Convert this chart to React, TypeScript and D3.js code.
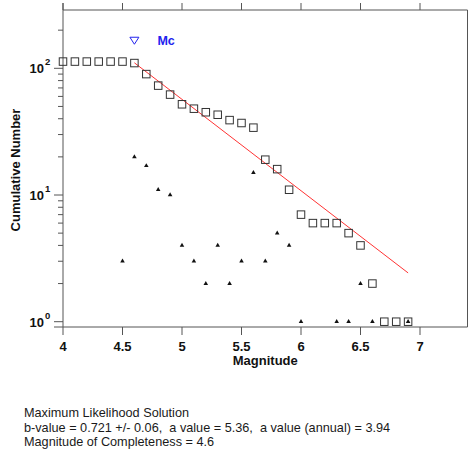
import React from "react";
import * as d3 from "d3";

const magnitudes = [4.0, 4.1, 4.2, 4.3, 4.4, 4.5, 4.6, 4.7, 4.8, 4.9, 5.0, 5.1, 5.2, 5.3, 5.4, 5.5, 5.6, 5.7, 5.8, 5.9, 6.0, 6.1, 6.2, 6.3, 6.4, 6.5, 6.6, 6.7, 6.8, 6.9];
const cumulative = [113, 113, 113, 113, 113, 113, 110, 90, 73, 62, 52, 48, 45, 43, 39, 37, 34, 19, 16, 11, 7, 6, 6, 6, 5, 4, 2, 1, 1, 1];
const nonCumMags = [4.5, 4.6, 4.7, 4.8, 4.9, 5.0, 5.1, 5.2, 5.3, 5.4, 5.5, 5.6, 5.7, 5.8, 5.9, 6.0, 6.3, 6.4, 6.5, 6.6, 6.9];
const nonCumCounts = [3, 20, 17, 11, 10, 4, 3, 2, 4, 2, 3, 15, 3, 5, 4, 1, 1, 1, 2, 1, 1];
const xTicks = [4, 4.5, 5, 5.5, 6, 6.5, 7];
const xTickLabels = ["4", "4.5", "5", "5.5", "6", "6.5", "7"];
const yDecades = [1, 10, 100];
const yDecadeExp = ["0", "1", "2"];
const bValue = 0.721;
const aValue = 5.36;
const mc = 4.6;
const mcMarkerY = 165;
const fitRange = [4.6, 6.9];
const infoLines = [
  "Maximum Likelihood Solution",
  "b-value = 0.721 +/- 0.06,  a value = 5.36,  a value (annual) = 3.94",
  "Magnitude of Completeness = 4.6",
];

const W = 468;
const H = 454;
const L = 63, R = 467.5, T = 10, B = 327;
const FONT = "Arial, 'Liberation Sans', sans-serif";

export default function App() {
  const x = d3.scaleLinear().domain([4, 7]).range([L, L + 357]);
  const y = d3.scaleLog().domain([1, 100]).range([321.7, 68.3]);

  const minorTicks: number[] = [];
  for (const dec of [1, 10, 100]) {
    for (let k = 2; k <= 9; k++) {
      const v = dec * k;
      const py = y(v);
      if (py >= T && py <= B) minorTicks.push(v);
    }
  }

  const fitLine = d3.line<number>()
    .x((m) => x(m))
    .y((m) => y(Math.pow(10, aValue - bValue * m)));

  const tri = d3.symbol().type(d3.symbolTriangle).size(9)();
  const sq = 7.5;

  return (
    <svg width={W} height={H} style={{ position: "absolute", left: 0, top: 0, background: "#fff" }} fontFamily={FONT}>
      <rect x={0} y={0} width={W} height={H} fill="#fff" />
      {/* frame */}
      <line x1={L} y1={T - 7} x2={L} y2={B} stroke="#555" strokeWidth={1} />
      <line x1={L} y1={T} x2={R} y2={T} stroke="#555" strokeWidth={1} />
      <line x1={R} y1={T} x2={R} y2={B} stroke="#555" strokeWidth={1} />
      <line x1={54} y1={B} x2={R} y2={B} stroke="#555" strokeWidth={1} />
      {/* x ticks */}
      {xTicks.map((t, i) => (
        <g key={"xt" + i}>
          <line x1={x(t)} y1={T} x2={x(t)} y2={T - 7} stroke="#555" />
          <line x1={x(t)} y1={B} x2={x(t)} y2={B + 8} stroke="#555" />
          <text x={x(t)} y={351} textAnchor="middle" fontSize={13} fontWeight="bold" fill="#111">
            {xTickLabels[i]}
          </text>
        </g>
      ))}
      {/* y ticks */}
      {yDecades.map((v, i) => (
        <g key={"yd" + i}>
          <line x1={L - 9} y1={y(v)} x2={L} y2={y(v)} stroke="#555" />
          <text x={44} y={y(v) + 5} textAnchor="end" fontSize={13} fontWeight="bold" fill="#111">10</text>
          <text x={45} y={y(v) - 3} fontSize={9.5} fontWeight="bold" fill="#111">{yDecadeExp[i]}</text>
        </g>
      ))}
      {minorTicks.map((v, i) => (
        <line key={"ym" + i} x1={L - 5} y1={y(v)} x2={L} y2={y(v)} stroke="#555" />
      ))}
      {/* axis titles */}
      <text x={(L + R) / 2} y={365} textAnchor="middle" fontSize={13} fontWeight="bold" fill="#111">Magnitude</text>
      <text transform={`translate(20,170) rotate(-90)`} textAnchor="middle" fontSize={13} fontWeight="bold" fill="#111">Cumulative Number</text>
      {/* fit line */}
      <path d={fitLine(fitRange) || ""} fill="none" stroke="#ff3333" strokeWidth={1} />
      {/* non-cumulative triangles */}
      {nonCumMags.map((m, i) => (
        <path key={"nc" + i} d={tri || ""} transform={`translate(${x(m)},${y(nonCumCounts[i])})`} fill="#111" />
      ))}
      {/* cumulative squares */}
      {magnitudes.map((m, i) => (
        <rect key={"c" + i} x={x(m) - sq / 2} y={y(cumulative[i]) - sq / 2} width={sq} height={sq} fill="none" stroke="#333" strokeWidth={1} />
      ))}
      {/* Mc marker */}
      <path d={`M${x(mc) - 4.5},${y(mcMarkerY) - 3.5} L${x(mc) + 4.5},${y(mcMarkerY) - 3.5} L${x(mc)},${y(mcMarkerY) + 3.5} Z`} fill="none" stroke="#2222ee" strokeWidth={1} />
      <text x={x(mc) + 23} y={y(mcMarkerY) + 4} fontSize={12.5} fontWeight="bold" fill="#2222ee">Mc</text>
      {/* info text */}
      {infoLines.map((s, i) => (
        <text key={"info" + i} x={24} y={417 + i * 14.6} fontSize={12.7} fill="#1a1a1a" style={{ whiteSpace: "pre" }}>{s}</text>
      ))}
    </svg>
  );
}
